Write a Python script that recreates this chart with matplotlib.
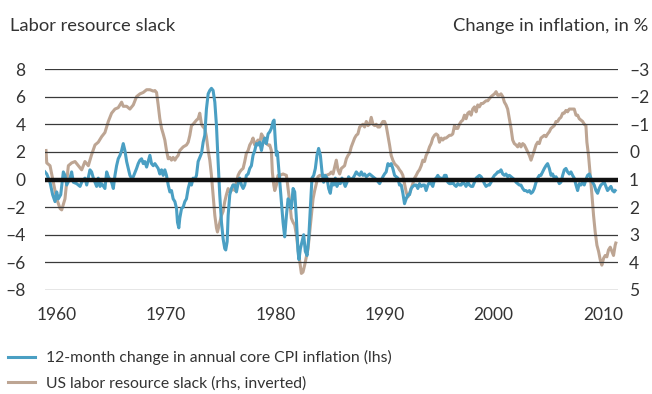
import matplotlib
matplotlib.use('Agg')
import matplotlib.pyplot as plt
from matplotlib.ticker import FixedLocator, FuncFormatter

plt.rcParams['font.family'] = ['Lato', 'DejaVu Sans']

# 12-month change in annual core CPI inflation, pp (left axis)
core_years = [
    1958.90, 1959.06, 1959.36, 1959.60, 1959.82, 1959.97, 1960.12, 1960.34, 1960.58, 1960.73,
    1960.89, 1961.19, 1961.34, 1961.50, 1961.80, 1962.11, 1962.26, 1962.56, 1962.72, 1963.02,
    1963.17, 1963.33, 1963.63, 1963.78, 1963.94, 1964.09, 1964.39, 1964.55, 1964.70, 1965.00,
    1965.16, 1965.31, 1965.46, 1965.61, 1965.77, 1965.92, 1966.07, 1966.22, 1966.38, 1966.53,
    1966.68, 1966.83, 1966.99, 1967.29, 1967.44, 1967.60, 1967.75, 1967.90, 1968.05, 1968.21,
    1968.51, 1968.66, 1968.82, 1968.97, 1969.27, 1969.42, 1969.58, 1969.73, 1969.88, 1970.03,
    1970.19, 1970.34, 1970.49, 1970.64, 1970.80, 1970.95, 1971.04, 1971.16, 1971.25, 1971.41,
    1971.56, 1971.71, 1971.86, 1972.02, 1972.17, 1972.32, 1972.47, 1972.63, 1972.78, 1972.93,
    1973.08, 1973.24, 1973.39, 1973.54, 1973.69, 1973.85, 1974.00, 1974.15, 1974.30, 1974.46,
    1974.61, 1974.76, 1974.91, 1975.07, 1975.22, 1975.37, 1975.46, 1975.59, 1975.68, 1975.83,
    1975.98, 1976.13, 1976.29, 1976.44, 1976.59, 1976.74, 1976.90, 1977.05, 1977.20, 1977.35,
    1977.51, 1977.66, 1977.81, 1977.96, 1978.12, 1978.27, 1978.42, 1978.57, 1978.73, 1978.88,
    1979.03, 1979.18, 1979.34, 1979.49, 1979.64, 1979.80, 1979.89, 1980.01, 1980.10, 1980.19,
    1980.31, 1980.41, 1980.56, 1980.71, 1980.86, 1981.02, 1981.17, 1981.32, 1981.47, 1981.63,
    1981.78, 1981.93, 1982.08, 1982.17, 1982.30, 1982.45, 1982.60, 1982.75, 1982.91, 1983.06,
    1983.21, 1983.36, 1983.52, 1983.67, 1983.82, 1983.97, 1984.13, 1984.28, 1984.43, 1984.58,
    1984.74, 1984.89, 1985.04, 1985.19, 1985.35, 1985.50, 1985.65, 1985.80, 1985.96, 1986.11,
    1986.26, 1986.41, 1986.57, 1986.72, 1986.87, 1987.12, 1987.27, 1987.42, 1987.57, 1987.73,
    1987.88, 1988.03, 1988.18, 1988.34, 1988.64, 1988.95, 1989.25, 1989.56, 1989.86, 1990.01,
    1990.16, 1990.32, 1990.47, 1990.62, 1990.77, 1990.93, 1991.08, 1991.23, 1991.38, 1991.54,
    1991.69, 1991.84, 1991.99, 1992.15, 1992.30, 1992.45, 1992.60, 1992.76, 1992.91, 1993.06,
    1993.21, 1993.37, 1993.52, 1993.67, 1993.82, 1993.98, 1994.13, 1994.28, 1994.43, 1994.59,
    1994.74, 1994.89, 1995.04, 1995.20, 1995.35, 1995.50, 1995.65, 1995.81, 1995.96, 1996.11,
    1996.26, 1996.42, 1996.57, 1996.72, 1996.87, 1997.03, 1997.18, 1997.33, 1997.48, 1997.64,
    1997.79, 1997.94, 1998.09, 1998.25, 1998.40, 1998.55, 1998.70, 1998.86, 1999.01, 1999.16,
    1999.31, 1999.47, 1999.62, 1999.77, 1999.92, 2000.08, 2000.23, 2000.38, 2000.53, 2000.68,
    2000.84, 2000.99, 2001.14, 2001.29, 2001.45, 2001.60, 2001.75, 2001.90, 2002.06, 2002.21,
    2002.36, 2002.51, 2002.67, 2002.82, 2002.97, 2003.12, 2003.28, 2003.43, 2003.58, 2003.73,
    2003.89, 2004.04, 2004.19, 2004.34, 2004.50, 2004.65, 2004.80, 2004.95, 2005.11, 2005.26,
    2005.41, 2005.56, 2005.72, 2005.87, 2006.02, 2006.17, 2006.33, 2006.48, 2006.63, 2006.78,
    2006.94, 2007.09, 2007.24, 2007.39, 2007.55, 2007.70, 2007.85, 2008.00, 2008.16, 2008.31,
    2008.46, 2008.61, 2008.77, 2008.92, 2009.07, 2009.22, 2009.38, 2009.53, 2009.68, 2009.83,
    2009.99, 2010.14, 2010.29, 2010.44, 2010.60, 2010.75, 2010.90, 2011.05, 2011.14,
]
core_chg = [
    0.55, 0.4, -0.2, -1.1, -1.6, -0.9, -1.4, -1.1, 0.55, 0.3,
    -0.4, 0.1, 0.55, -0.2, -0.3, -0.5, -0.2, 0.1, -0.4, 0.7,
    0.55, 0.1, -0.5, 0.1, -0.5, -0.3, -0.65, 0.55, 0.2, -0.2,
    -0.65, 0.3, 1.0, 1.5, 1.75, 2.1, 2.6, 2.1, 1.3, 0.8,
    0.3, 0.1, 0.2, 0.8, 1.15, 1.4, 1.5, 1.15, 1.3, 0.9,
    1.75, 1.15, 1.0, 1.15, 0.8, 0.4, 0.7, 0.3, 0.7, 0.3,
    -0.4, -0.9, -0.8, -1.4, -1.6, -2.1, -3.1, -3.5, -2.8, -2.1,
    -2.0, -1.6, -1.4, -0.65, -0.2, -0.4, 0.1, 0.0, 0.3, 1.3,
    1.6, 1.9, 2.7, 3.2, 5.1, 6.2, 6.45, 6.6, 6.45, 5.6,
    3.9, 1.3, -1.1, -3.1, -4.3, -5.0, -5.1, -4.5, -2.6, -1.1,
    -0.65, -0.4, -0.4, -0.9, -0.3, 0.1, -0.4, -0.65, -0.4, 0.3,
    0.4, 0.8, 1.0, 1.75, 2.1, 2.6, 2.5, 2.7, 2.1, 2.7,
    3.0, 2.6, 3.3, 3.45, 3.7, 4.2, 4.3, 2.7, 1.75, 2.0,
    0.8, -0.2, -1.6, -3.1, -4.15, -2.6, -1.4, -1.6, -2.1, -0.65,
    -0.9, -2.8, -5.2, -5.8, -5.0, -4.5, -4.0, -5.2, -5.5, -4.3,
    -2.1, 0.1, 0.3, 0.8, 1.75, 2.25, 1.75, 0.55, -0.2, 0.3,
    0.1, -0.65, -1.0, -0.2, -0.4, 0.1, -0.5, -0.2, -0.3, 0.1,
    -0.2, -0.5, -0.2, 0.2, 0.0, 0.1, 0.3, 0.55, 0.4, 0.3,
    0.55, 0.3, 0.4, 0.2, 0.4, 0.2, 0.0, -0.3, 0.2, 0.4,
    0.55, 1.15, 1.0, 1.15, 0.8, 0.3, 0.2, 0.1, -0.4, -0.4,
    -1.0, -1.75, -1.4, -1.1, -1.1, -0.65, -0.5, -0.4, -0.4, -0.65,
    -0.3, -0.5, -0.4, -0.4, -0.8, -0.4, -0.2, -0.3, -0.5, 0.0,
    0.1, 0.3, 0.1, 0.1, 0.0, 0.3, 0.3, -0.2, -0.3, -0.3,
    -0.2, -0.4, -0.5, -0.3, -0.4, -0.4, -0.2, -0.3, -0.5, -0.2,
    -0.4, -0.5, -0.5, -0.2, 0.1, 0.2, 0.3, 0.2, 0.0, -0.3,
    -0.5, -0.4, -0.4, -0.2, 0.1, 0.3, 0.4, 0.55, 0.55, 0.7,
    0.4, 0.3, 0.4, 0.2, 0.3, 0.2, 0.1, 0.0, -0.2, -0.3,
    -0.4, -0.4, -0.65, -0.8, -0.8, -0.9, -0.8, -1.0, -0.9, -0.65,
    -0.2, 0.1, 0.3, 0.3, 0.55, 0.8, 1.0, 1.15, 0.8, 0.3,
    0.4, 0.1, 0.2, 0.0, -0.3, -0.2, 0.3, 0.7, 0.8, 0.55,
    0.4, 0.55, 0.3, 0.1, -0.4, -0.8, -0.3, -0.4, -0.2, -0.4,
    0.0, 0.3, 0.4, 0.1, -0.2, -0.4, -0.8, -1.0, -0.65, -0.4,
    -0.3, -0.2, -0.5, -0.8, -0.65, -0.5, -0.8, -0.9, -0.8,
]

# US labor resource slack, % (right axis, inverted)
slack_years = [
    1958.99, 1959.06, 1959.36, 1959.67, 1959.97, 1960.28, 1960.43, 1960.73, 1960.89, 1961.04,
    1961.34, 1961.65, 1961.95, 1962.26, 1962.56, 1962.87, 1963.17, 1963.48, 1963.78, 1964.09,
    1964.39, 1964.70, 1965.00, 1965.31, 1965.61, 1965.92, 1966.07, 1966.38, 1966.68, 1966.99,
    1967.29, 1967.60, 1967.90, 1968.21, 1968.51, 1968.82, 1968.97, 1969.12, 1969.27, 1969.42,
    1969.58, 1969.73, 1969.88, 1970.03, 1970.19, 1970.34, 1970.49, 1970.64, 1970.80, 1970.95,
    1971.10, 1971.25, 1971.56, 1971.86, 1972.02, 1972.17, 1972.32, 1972.47, 1972.78, 1972.93,
    1973.08, 1973.24, 1973.39, 1973.54, 1973.69, 1973.85, 1974.00, 1974.15, 1974.30, 1974.46,
    1974.61, 1974.70, 1974.82, 1975.07, 1975.22, 1975.37, 1975.52, 1975.68, 1975.83, 1975.98,
    1976.13, 1976.29, 1976.44, 1976.59, 1976.74, 1976.90, 1977.05, 1977.20, 1977.35, 1977.51,
    1977.66, 1977.81, 1977.96, 1978.12, 1978.27, 1978.42, 1978.57, 1978.73, 1978.88, 1979.03,
    1979.34, 1979.49, 1979.64, 1979.73, 1979.86, 1979.95, 1980.10, 1980.25, 1980.41, 1980.71,
    1981.02, 1981.17, 1981.32, 1981.47, 1981.63, 1981.78, 1981.93, 1982.08, 1982.24, 1982.39,
    1982.54, 1982.69, 1982.85, 1983.00, 1983.15, 1983.30, 1983.46, 1983.61, 1983.76, 1983.91,
    1984.07, 1984.37, 1984.68, 1984.98, 1985.13, 1985.29, 1985.44, 1985.59, 1985.74, 1985.90,
    1986.05, 1986.20, 1986.35, 1986.51, 1986.66, 1986.81, 1986.96, 1987.12, 1987.27, 1987.42,
    1987.57, 1987.73, 1987.88, 1988.03, 1988.18, 1988.34, 1988.49, 1988.64, 1988.79, 1988.95,
    1989.10, 1989.25, 1989.40, 1989.56, 1989.71, 1989.86, 1990.01, 1990.16, 1990.32, 1990.47,
    1990.62, 1990.77, 1990.93, 1991.23, 1991.38, 1991.54, 1991.69, 1991.84, 1991.99, 1992.15,
    1992.30, 1992.45, 1992.60, 1992.76, 1992.91, 1993.06, 1993.21, 1993.37, 1993.52, 1993.67,
    1993.82, 1993.98, 1994.13, 1994.28, 1994.43, 1994.59, 1994.74, 1994.89, 1995.04, 1995.20,
    1995.35, 1995.50, 1995.65, 1995.81, 1995.96, 1996.11, 1996.26, 1996.42, 1996.57, 1996.72,
    1996.87, 1997.03, 1997.18, 1997.33, 1997.48, 1997.64, 1997.79, 1997.94, 1998.09, 1998.25,
    1998.40, 1998.55, 1998.70, 1998.86, 1999.01, 1999.16, 1999.31, 1999.47, 1999.62, 1999.77,
    1999.92, 2000.08, 2000.23, 2000.38, 2000.53, 2000.68, 2000.84, 2000.99, 2001.14, 2001.29,
    2001.45, 2001.60, 2001.75, 2001.90, 2002.06, 2002.21, 2002.36, 2002.51, 2002.67, 2002.82,
    2002.97, 2003.12, 2003.28, 2003.43, 2003.58, 2003.73, 2003.89, 2004.04, 2004.19, 2004.34,
    2004.50, 2004.65, 2004.80, 2004.95, 2005.11, 2005.26, 2005.41, 2005.56, 2005.72, 2005.87,
    2006.02, 2006.17, 2006.33, 2006.48, 2006.63, 2006.78, 2006.94, 2007.24, 2007.39, 2007.55,
    2007.70, 2007.85, 2008.00, 2008.16, 2008.31, 2008.46, 2008.55, 2008.70, 2008.86, 2009.01,
    2009.16, 2009.31, 2009.47, 2009.62, 2009.77, 2009.92, 2010.08, 2010.23, 2010.38, 2010.53,
    2010.69, 2010.84, 2010.99, 2011.14, 2011.20,
]
slack = [
    -0.05, 0.4, 0.5, 1.1, 1.7, 2.05, 2.1, 1.7, 1.1, 0.5,
    0.4, 0.35, 0.5, 0.65, 0.35, 0.5, 0.1, -0.25, -0.35, -0.55,
    -0.7, -1.1, -1.4, -1.55, -1.6, -1.8, -1.65, -1.65, -1.55, -1.7,
    -2.0, -2.1, -2.15, -2.25, -2.25, -2.2, -2.22, -2.15, -1.7, -1.2,
    -0.85, -0.65, -0.43, -0.05, 0.25, 0.2, 0.3, 0.2, 0.3, 0.2,
    0.13, -0.05, -0.18, -0.25, -0.35, -0.6, -0.95, -1.0, -1.15, -1.2,
    -1.4, -1.0, -0.9, -0.85, -0.55, -0.05, 0.3, 0.85, 1.55, 2.3,
    2.75, 2.9, 2.7, 2.3, 2.15, 1.8, 1.55, 1.33, 1.45, 1.4,
    1.2, 1.4, 1.1, 0.85, 0.73, 0.65, 0.6, 0.35, 0.05, -0.05,
    -0.25, -0.35, -0.5, -0.25, -0.35, -0.43, -0.3, -0.65, -0.55, -0.35,
    -0.25, -0.25, -0.05, 0.73, 1.2, 1.4, 1.2, 0.85, 0.85, 0.8,
    0.85, 1.33, 1.8, 2.4, 2.55, 2.65, 3.0, 3.5, 3.98, 4.4,
    4.35, 4.1, 3.8, 3.5, 2.9, 2.3, 1.7, 1.4, 1.15, 0.9,
    0.85, 0.85, 0.85, 0.8, 0.73, 0.8, 0.55, 0.3, 0.65, 0.8,
    0.6, 0.55, 0.5, 0.25, 0.13, 0.05, -0.18, -0.35, -0.5, -0.6,
    -0.65, -0.9, -0.95, -1.0, -0.9, -1.1, -0.95, -1.0, -1.25, -1.0,
    -0.95, -1.0, -0.9, -0.9, -1.0, -1.1, -1.1, -0.95, -0.6, -0.25,
    0.13, 0.3, 0.43, 0.55, 0.65, 0.73, 0.85, 1.15, 1.45, 1.63,
    1.5, 1.33, 1.15, 0.95, 0.85, 0.73, 0.65, 0.5, 0.3, 0.35,
    0.13, 0.0, -0.18, -0.3, -0.5, -0.6, -0.65, -0.6, -0.35, -0.5,
    -0.43, -0.5, -0.5, -0.55, -0.6, -0.6, -0.65, -0.95, -0.85, -0.85,
    -1.0, -1.1, -1.15, -1.33, -1.2, -1.4, -1.45, -1.33, -1.55, -1.63,
    -1.45, -1.7, -1.63, -1.75, -1.75, -1.8, -1.85, -1.85, -1.93, -2.0,
    -2.05, -2.1, -2.18, -2.05, -2.05, -2.1, -2.0, -1.8, -1.7, -1.55,
    -1.2, -0.85, -0.43, -0.3, -0.25, -0.18, -0.3, -0.18, -0.3, -0.25,
    -0.13, 0.0, 0.13, 0.3, 0.13, -0.05, -0.25, -0.35, -0.3, -0.5,
    -0.55, -0.6, -0.55, -0.65, -0.73, -0.85, -0.9, -0.95, -1.1, -1.1,
    -1.2, -1.25, -1.4, -1.4, -1.5, -1.45, -1.55, -1.55, -1.55, -1.33,
    -1.33, -1.2, -1.15, -1.1, -1.0, -0.95, -0.35, 0.13, 0.85, 1.55,
    2.3, 2.9, 3.38, 3.6, 3.9, 4.1, 3.85, 3.75, 3.8, 3.55,
    3.45, 3.6, 3.75, 3.38, 3.3,
]

lhs_ticks = [-8, -6, -4, -2, 0, 2, 4, 6, 8]
rhs_ticks = [-3, -2, -1, 0, 1, 2, 3, 4, 5]
decades = [1960, 1970, 1980, 1990, 2000, 2010]

BLUE = '#4a9fc3'
BROWN = '#bda593'
TXT = '#333333'


def dash_minus(v, pos):
    # en dash instead of a hyphen for negatives
    return ('\u2013%d' % -v) if v < 0 else '%d' % v


fig = plt.figure(figsize=(6.52, 3.94), dpi=100)
ax = fig.add_axes([45 / 652, 1 - 290 / 394, 573 / 652, 221 / 394])
ax2 = ax.twinx()

# slack on the right axis, drawn underneath the inflation line
ln_slack, = ax2.plot(slack_years, slack, color=BROWN, lw=2.2, solid_joinstyle='round')
ax2.set_ylim(5, -3)
ax.set_zorder(ax2.get_zorder() + 1)
ax.patch.set_visible(False)

ln_core, = ax.plot(core_years, core_chg, color=BLUE, lw=2.2, solid_joinstyle='round')
ax.axhline(0, color='#111111', lw=3.2, zorder=5)

ax.set_ylim(-8, 8)
ax.set_xlim(1958.9, 2011.4)
ax.yaxis.set_major_locator(FixedLocator(lhs_ticks))
ax.yaxis.set_major_formatter(FuncFormatter(dash_minus))
ax2.yaxis.set_major_locator(FixedLocator(rhs_ticks))
ax2.yaxis.set_major_formatter(FuncFormatter(dash_minus))
ax.set_xticks(decades)
ax.grid(axis='y', color='#3a3a3a', lw=0.9)
ax.set_axisbelow(True)

for a in (ax, ax2):
    for s in a.spines.values():
        s.set_visible(False)
ax.tick_params(axis='y', length=0, pad=14, labelsize=12.5, labelcolor=TXT)
ax.tick_params(axis='x', length=0, pad=12, labelsize=12.5, labelcolor=TXT)
ax2.tick_params(axis='y', length=0, pad=8, labelsize=12.5, labelcolor=TXT)

fig.text(10 / 652, 1 - 31 / 394, 'Labor resource slack', fontsize=13.2, color=TXT,
         ha='left', va='baseline')
fig.text(648 / 652, 1 - 31 / 394, 'Change in inflation, in %', fontsize=13.2, color=TXT,
         ha='right', va='baseline')

fig.legend([ln_core, ln_slack],
           ['12-month change in annual core CPI inflation (lhs)',
            'US labor resource slack (rhs, inverted)'],
           loc='upper left', bbox_to_anchor=(8 / 652, 1 - 350 / 394), frameon=False,
           fontsize=11.3, handlelength=1.75, handletextpad=0.65, labelspacing=0.72,
           borderpad=0, borderaxespad=0, labelcolor=TXT)

fig.savefig('out.png', dpi=100)
